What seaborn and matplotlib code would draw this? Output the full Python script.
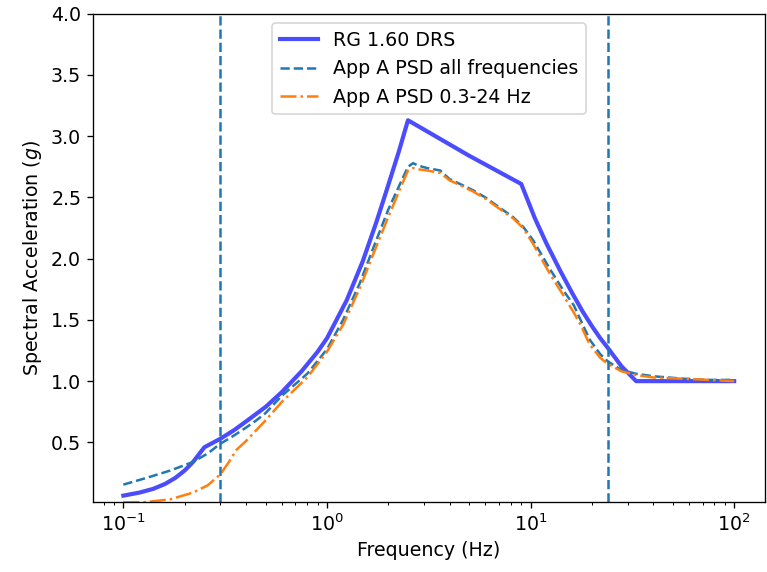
import matplotlib
matplotlib.use("Agg")
import matplotlib.pyplot as plt
import seaborn as sns
import pandas as pd

# RG 1.60 design response spectrum
freq_rg = [0.1, 0.12, 0.14, 0.16, 0.18, 0.2, 0.22, 0.25, 0.3, 0.35, 0.4, 0.5, 0.6, 0.75,
           0.9, 1.0, 1.25, 1.5, 1.75, 2.0, 2.25, 2.5, 5.0, 9.0, 10.5, 12.0, 14.0, 16.0,
           18.0, 20.0, 22.0, 24.0, 28.0, 30.0, 33.0, 100.0]
sa_rg = [0.065, 0.09, 0.12, 0.16, 0.21, 0.27, 0.34, 0.46, 0.53, 0.60, 0.67, 0.79, 0.91, 1.08,
         1.24, 1.35, 1.66, 1.98, 2.3, 2.6, 2.87, 3.13, 2.84, 2.61, 2.33, 2.12, 1.90, 1.72,
         1.57, 1.45, 1.35, 1.27, 1.12, 1.07, 1.0, 1.0]

# Appendix A PSD based spectra
freq_psd = [0.1, 0.13, 0.17, 0.22, 0.26, 0.3, 0.33, 0.36, 0.4, 0.45, 0.5, 0.6, 0.8,
            1.0, 1.2, 1.45, 1.7, 2.0, 2.3, 2.5, 2.65, 2.8, 3.1, 3.6, 4.0, 4.5, 5.2,
            6.0, 7.0, 8.2, 9.2, 10.3, 12.4, 14.5, 16.3, 17.6, 19.5, 22.0, 24.0, 28.0,
            33.0, 40.0, 56.0, 75.0, 100.0]
sa_all = [0.155, 0.21, 0.27, 0.34, 0.41, 0.49, 0.53, 0.57, 0.62, 0.68, 0.74, 0.88, 1.06,
          1.26, 1.50, 1.80, 2.10, 2.40, 2.62, 2.75, 2.78, 2.76, 2.74, 2.72, 2.65, 2.61, 2.56,
          2.50, 2.42, 2.34, 2.26, 2.15, 1.92, 1.74, 1.62, 1.50, 1.34, 1.22, 1.16, 1.09,
          1.06, 1.04, 1.02, 1.01, 1.01]
sa_band = [0.01, 0.013, 0.035, 0.09, 0.15, 0.24, 0.34, 0.44, 0.51, 0.60, 0.68, 0.83, 1.03,
           1.24, 1.46, 1.76, 2.05, 2.34, 2.58, 2.72, 2.74, 2.73, 2.72, 2.70, 2.64, 2.60, 2.55,
           2.49, 2.41, 2.33, 2.25, 2.12, 1.88, 1.70, 1.56, 1.46, 1.30, 1.19, 1.14, 1.08,
           1.05, 1.03, 1.02, 1.01, 1.0]

band_limits = [0.3, 24.0]
labels = ["RG 1.60 DRS", "App A PSD all frequencies", "App A PSD 0.3-24 Hz"]
yticks = [0.5, 1.0, 1.5, 2.0, 2.5, 3.0, 3.5, 4.0]

df_rg = pd.DataFrame({"f": freq_rg, "sa": sa_rg})
df_psd = pd.DataFrame({"f": freq_psd, "all": sa_all, "band": sa_band})

plt.rcParams["font.size"] = 11.4
fig = plt.figure(figsize=(767 / 120, 572 / 120), dpi=120)
ax = fig.add_axes([0.121, 0.123, 0.876, 0.853])

sns.lineplot(data=df_rg, x="f", y="sa", ax=ax, color="blue", alpha=0.7, lw=2.5,
             label=labels[0], estimator=None)
sns.lineplot(data=df_psd, x="f", y="all", ax=ax, color="C0", linestyle="--", lw=1.5,
             label=labels[1], estimator=None)
sns.lineplot(data=df_psd, x="f", y="band", ax=ax, color="C1", linestyle="-.", lw=1.5,
             label=labels[2], estimator=None)
for b in band_limits:
    ax.axvline(b, color="C0", linestyle="--", lw=1.5)

ax.set_xscale("log")
ax.set_xlim(10 ** -1.15, 10 ** 2.15)
ax.set_ylim(0.016, 4.0)
ax.set_yticks(yticks)
ax.set_xlabel("Frequency (Hz)")
ax.set_ylabel("Spectral Acceleration ($g$)")
ax.legend(loc="upper center")

fig.savefig("out.png", dpi=120)
